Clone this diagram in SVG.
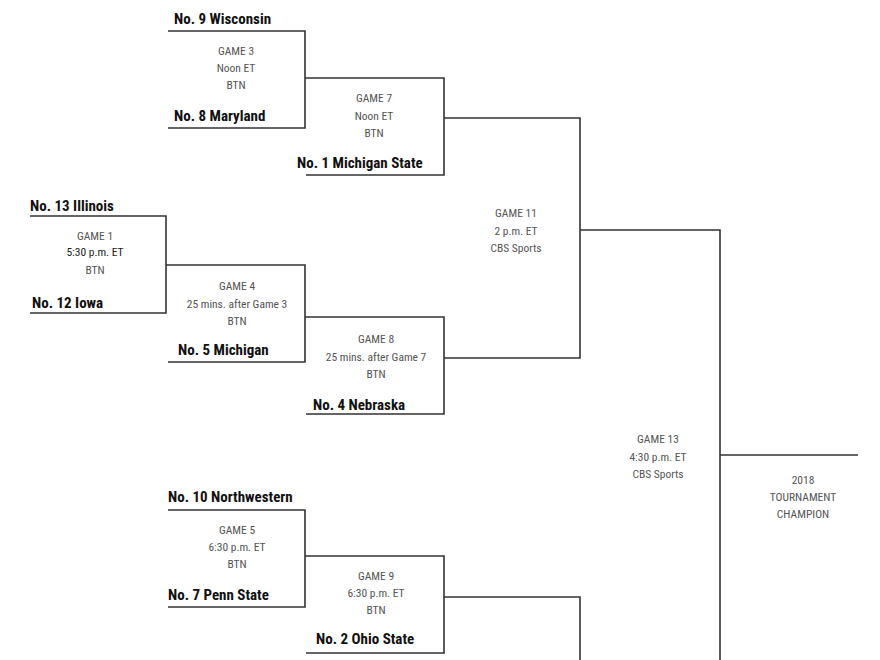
<svg xmlns="http://www.w3.org/2000/svg" width="880" height="660" viewBox="0 0 880 660">
<style>
.ln{fill:none;stroke:#333;stroke-width:1.6}
.t{font-family:"Liberation Sans Narrow","Roboto Condensed","Liberation Sans",sans-serif;font-weight:bold;font-size:15px;fill:#111}
.s{font-family:"Liberation Sans Narrow","Roboto Condensed","Liberation Sans",sans-serif;font-size:11.5px;fill:#555;text-anchor:middle}
</style>
<rect width="880" height="660" fill="#fff"/>
<g id="connectors">
<path class="ln" d="M168 31H305V128H168M305 78H444V175H306M444 118H580V358H444M305 317H444V414H306"/>
<path class="ln" d="M30 216H166V313H30M166 265H305V362H168"/>
<path class="ln" d="M580 230H720V660M720 455H858"/>
<path class="ln" d="M168 510H305V607H168M305 556H444V653H306M444 597H580V660"/>
</g>
<g id="game3"><text class="t" x="174" y="24">No. 9 Wisconsin</text><text class="s" x="236" y="55">GAME 3</text><text class="s" x="236" y="72">Noon ET</text><text class="s" x="236" y="89">BTN</text><text class="t" x="174" y="121">No. 8 Maryland</text></g>
<g id="game7"><text class="s" x="374" y="102">GAME 7</text><text class="s" x="374" y="120">Noon ET</text><text class="s" x="374" y="137">BTN</text><text class="t" x="297" y="168">No. 1 Michigan State</text></g>
<g id="game1"><text class="t" x="30" y="211">No. 13 Illinois</text><text class="s" x="95" y="240">GAME 1</text><text class="s" x="95" y="256" style="fill:#222">5:30 p.m. ET</text><text class="s" x="95" y="274">BTN</text><text class="t" x="32" y="308">No. 12 Iowa</text></g>
<g id="game4"><text class="s" x="237" y="290">GAME 4</text><text class="s" x="237" y="308">25 mins. after Game 3</text><text class="s" x="237" y="325">BTN</text><text class="t" x="178" y="355">No. 5 Michigan</text></g>
<g id="game8"><text class="s" x="376" y="343">GAME 8</text><text class="s" x="376" y="361">25 mins. after Game 7</text><text class="s" x="376" y="378">BTN</text><text class="t" x="313" y="410">No. 4 Nebraska</text></g>
<g id="game11"><text class="s" x="516" y="217">GAME 11</text><text class="s" x="516" y="235">2 p.m. ET</text><text class="s" x="516" y="252">CBS Sports</text></g>
<g id="game13"><text class="s" x="658" y="443">GAME 13</text><text class="s" x="658" y="461">4:30 p.m. ET</text><text class="s" x="658" y="478">CBS Sports</text></g>
<g id="champion"><text class="s" x="803" y="484">2018</text><text class="s" x="803" y="501">TOURNAMENT</text><text class="s" x="803" y="518">CHAMPION</text></g>
<g id="game5"><text class="t" x="168" y="502">No. 10 Northwestern</text><text class="s" x="237" y="534">GAME 5</text><text class="s" x="237" y="551">6:30 p.m. ET</text><text class="s" x="237" y="568">BTN</text><text class="t" x="168" y="600">No. 7 Penn State</text></g>
<g id="game9"><text class="s" x="376" y="580">GAME 9</text><text class="s" x="376" y="597">6:30 p.m. ET</text><text class="s" x="376" y="614">BTN</text><text class="t" x="316" y="644">No. 2 Ohio State</text></g>
</svg>
